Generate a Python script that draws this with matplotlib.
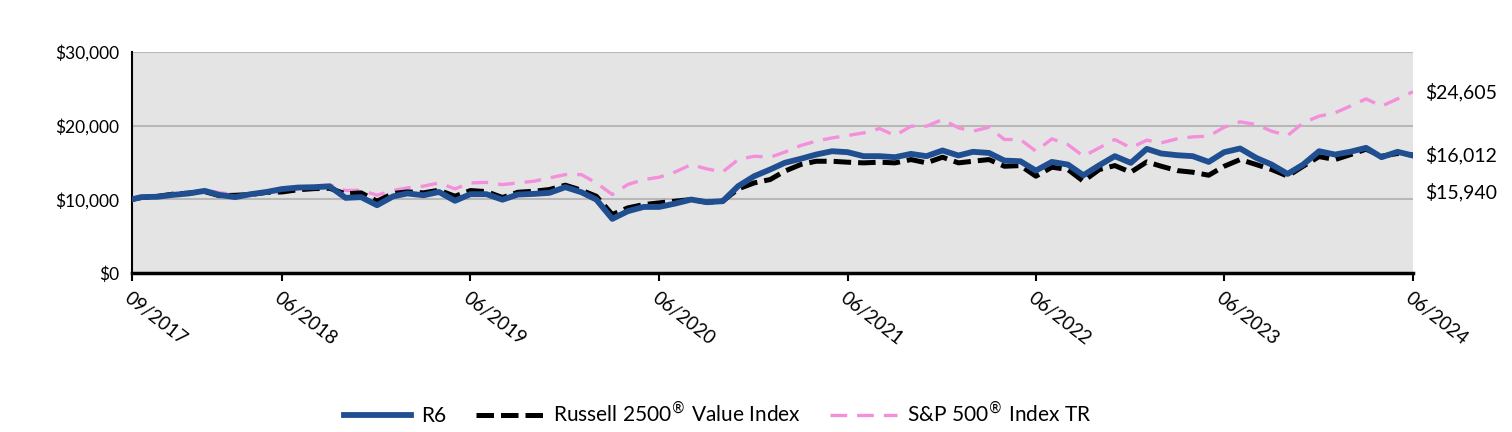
import numpy as np
import pandas as pd
import matplotlib
matplotlib.use('Agg')
import matplotlib.pyplot as plt

plt.rcParams['font.family'] = ['Lato', 'DejaVu Sans']

# Dates: inception point, then month-ends 09/2017 .. 06/2024
dates = [pd.Timestamp('2017-09-12')] + list(pd.date_range('2017-09-30', '2024-06-30', freq='ME'))

r6 = [10000,
      10300, 10350, 10600, 10800,
      11150, 10600, 10300, 10700, 11000, 11400, 11600, 11650, 11750, 10200, 10300, 9200,
      10400, 10800, 10550, 11000, 9800, 10700, 10700, 9950, 10650, 10740, 10880, 11650,
      10960, 9970, 7350, 8390, 8970, 8970, 9430, 9970, 9610, 9750, 11790, 13140,
      14050, 14950, 15500, 16080, 16530, 16400, 15860, 15860, 15720, 16170, 15860, 16630,
      15950, 16450, 16300, 15260, 15170, 13900, 15080, 14720, 13270, 14630, 15860, 14950,
      16850, 16220, 15990, 15860, 15080, 16400, 16900, 15630, 14720, 13450, 14720, 16530,
      16080, 16450, 16990, 15720, 16450, 15940]

russell = [10000,
           10250, 10400, 10700, 10850,
           11050, 10500, 10550, 10650, 10950, 11000, 11300, 11450, 11500, 10740, 10880, 9750,
           10790, 11010, 10880, 11240, 10420, 11190, 11050, 10250, 10960, 11100, 11330, 11920,
           11240, 10420, 7940, 8840, 9290, 9520, 9750, 9970, 9610, 9750, 11420, 12230,
           12690, 13820, 14720, 15170, 15170, 15040, 14950, 15040, 14950, 15400, 14950, 15720,
           14950, 15170, 15400, 14490, 14580, 13140, 14360, 14050, 12460, 14050, 14580, 13680,
           15080, 14490, 13900, 13680, 13270, 14490, 15400, 14720, 14050, 13150, 14490, 15800,
           15400, 16050, 16800, 15860, 16220, 16012]

sp500 = [10000,
         10200, 10400, 10700, 10850,
         11300, 10900, 10650, 10700, 10950, 11050, 11450, 11800, 12000, 11190, 11240, 10560,
         11190, 11560, 11790, 12230, 11420, 12230, 12300, 12000, 12230, 12460, 12910, 13360,
         13360, 12230, 10650, 12010, 12690, 13000, 13720, 14720, 14130, 13720, 15400, 15850,
         15720, 16400, 17300, 17900, 18340, 18660, 19020, 19610, 18660, 19930, 19930, 20830,
         19700, 19250, 19790, 18120, 18120, 16530, 18210, 17440, 15860, 16990, 18120, 16990,
         18030, 17670, 18210, 18480, 18570, 19790, 20520, 20160, 19250, 18660, 20380, 21290,
         21740, 22640, 23640, 22640, 23640, 24605]

end_labels = ['$24,605', '$16,012', '$15,940']
tick_dates = ['2017-09-12', '2018-06-30', '2019-06-30', '2020-06-30',
              '2021-06-30', '2022-06-30', '2023-06-30', '2024-06-30']
tick_labels = ['09/2017', '06/2018', '06/2019', '06/2020',
               '06/2021', '06/2022', '06/2023', '06/2024']

fig = plt.figure(figsize=(15.12, 4.32), dpi=100)
ax = fig.add_axes([132/1512, (432-273)/432, (1413-132)/1512, (273-52)/432])
ax.set_facecolor('#e4e4e4')

ax.plot(dates, sp500, color='#f48fdb', lw=2.4, dashes=(5, 3), zorder=3,
        label='S&P 500$^{®}$ Index TR')
ax.plot(dates, russell, color='black', lw=3.6, dashes=(3.5, 1.4), zorder=4,
        label='Russell 2500$^{®}$ Value Index')
ax.plot(dates, r6, color='#1f4f91', lw=4.2, zorder=5, label='R6')

ax.set_ylim(0, 30000)
ax.set_yticks([0, 10000, 20000, 30000])
ax.set_yticklabels(['$0', '$10,000', '$20,000', '$30,000'], fontsize=12.5)
ax.yaxis.grid(True, color='#b8b8b8', lw=1.5)
ax.set_axisbelow(True)
ax.tick_params(axis='y', length=0, pad=9)

ax.set_xlim(dates[0], dates[-1])
ax.set_xticks([pd.Timestamp(d) for d in tick_dates])
ax.set_xticklabels(tick_labels, rotation=-38, ha='left', va='top',
                   rotation_mode='anchor', fontsize=13.5)
ax.tick_params(axis='x', length=6, width=1.5, pad=6)

for s in ['top', 'right']:
    ax.spines[s].set_visible(False)
ax.spines['left'].set_linewidth(1.5)
ax.spines['bottom'].set_linewidth(2.5)

# end-of-period value labels
label_y = [92, 155, 192]
for txt, py in zip(end_labels, label_y):
    fig.text(1425/1512, 1 - py/432, txt, fontsize=14, va='center', ha='left')

handles, labels = ax.get_legend_handles_labels()
order = [2, 1, 0]
fig.legend([handles[i] for i in order], [labels[i] for i in order],
           loc='center', bbox_to_anchor=(718/1512, 1 - 413/432), ncol=3,
           frameon=False, fontsize=15, handlelength=3.2, handletextpad=0.5,
           columnspacing=1.4)

fig.savefig('out.png', dpi=100)
